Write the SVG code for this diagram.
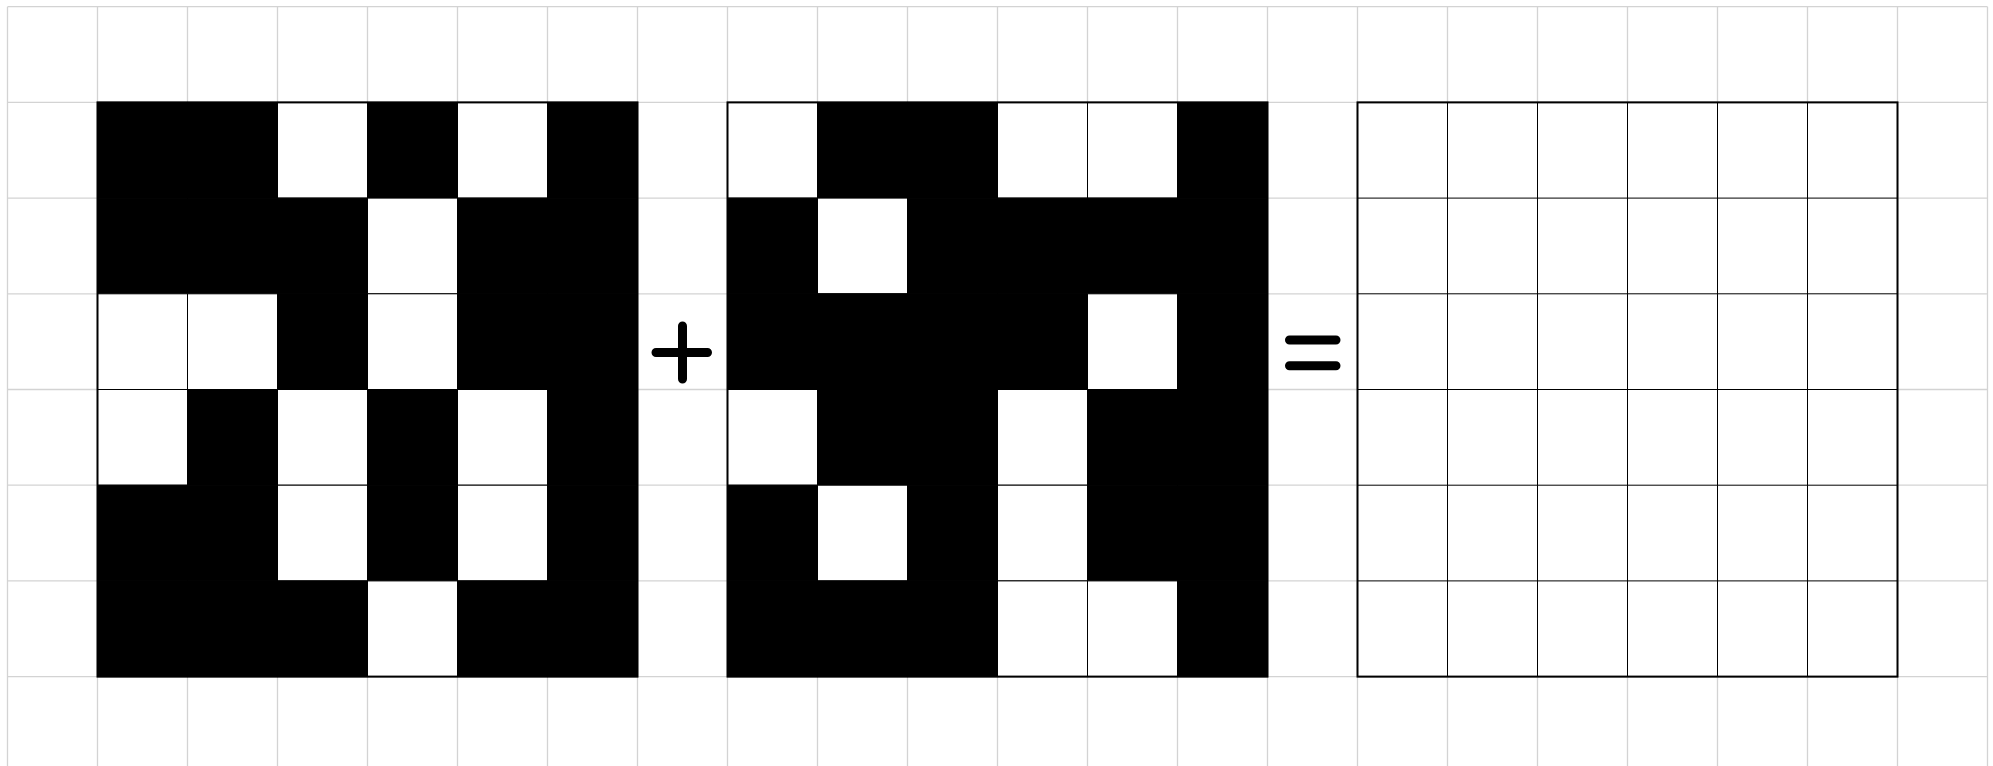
<svg xmlns="http://www.w3.org/2000/svg" width="1993" height="766" viewBox="0 0 1993 766">
<style>
.bg{stroke:#d3d3d3;stroke-width:1.3;fill:none}
.b{fill:#000;stroke:#000;stroke-width:1}
.w{fill:#fff;stroke:#000;stroke-width:1}
.frame{fill:none;stroke:#000;stroke-width:2}
.sym{stroke:#000;stroke-width:9;stroke-linecap:round;fill:none}
</style>
<rect x="0" y="0" width="1993" height="766" fill="#fff"/>
<g id="background-grid" class="bg">
<path d="M7.5 6.7V766M97.5 6.7V766M187.5 6.7V766M277.5 6.7V766M367.5 6.7V766M457.5 6.7V766M547.5 6.7V766M637.5 6.7V766M727.5 6.7V766M817.5 6.7V766M907.5 6.7V766M997.5 6.7V766M1087.5 6.7V766M1177.5 6.7V766M1267.5 6.7V766M1357.5 6.7V766M1447.5 6.7V766M1537.5 6.7V766M1627.5 6.7V766M1717.5 6.7V766M1807.5 6.7V766M1897.5 6.7V766M1987.5 6.7V766"/>
<path d="M7.5 6.7H1987.5M7.5 102.4H1987.5M7.5 198.1H1987.5M7.5 293.8H1987.5M7.5 389.5H1987.5M7.5 485.2H1987.5M7.5 580.9H1987.5M7.5 676.6H1987.5"/>
</g>
<g id="grid-a">
<rect class="b" x="97.5" y="102.4" width="90" height="95.7"/>
<rect class="b" x="187.5" y="102.4" width="90" height="95.7"/>
<rect class="w" x="277.5" y="102.4" width="90" height="95.7"/>
<rect class="b" x="367.5" y="102.4" width="90" height="95.7"/>
<rect class="w" x="457.5" y="102.4" width="90" height="95.7"/>
<rect class="b" x="547.5" y="102.4" width="90" height="95.7"/>

<rect class="b" x="97.5" y="198.1" width="90" height="95.7"/>
<rect class="b" x="187.5" y="198.1" width="90" height="95.7"/>
<rect class="b" x="277.5" y="198.1" width="90" height="95.7"/>
<rect class="w" x="367.5" y="198.1" width="90" height="95.7"/>
<rect class="b" x="457.5" y="198.1" width="90" height="95.7"/>
<rect class="b" x="547.5" y="198.1" width="90" height="95.7"/>

<rect class="w" x="97.5" y="293.8" width="90" height="95.7"/>
<rect class="w" x="187.5" y="293.8" width="90" height="95.7"/>
<rect class="b" x="277.5" y="293.8" width="90" height="95.7"/>
<rect class="w" x="367.5" y="293.8" width="90" height="95.7"/>
<rect class="b" x="457.5" y="293.8" width="90" height="95.7"/>
<rect class="b" x="547.5" y="293.8" width="90" height="95.7"/>

<rect class="w" x="97.5" y="389.5" width="90" height="95.7"/>
<rect class="b" x="187.5" y="389.5" width="90" height="95.7"/>
<rect class="w" x="277.5" y="389.5" width="90" height="95.7"/>
<rect class="b" x="367.5" y="389.5" width="90" height="95.7"/>
<rect class="w" x="457.5" y="389.5" width="90" height="95.7"/>
<rect class="b" x="547.5" y="389.5" width="90" height="95.7"/>

<rect class="b" x="97.5" y="485.2" width="90" height="95.7"/>
<rect class="b" x="187.5" y="485.2" width="90" height="95.7"/>
<rect class="w" x="277.5" y="485.2" width="90" height="95.7"/>
<rect class="b" x="367.5" y="485.2" width="90" height="95.7"/>
<rect class="w" x="457.5" y="485.2" width="90" height="95.7"/>
<rect class="b" x="547.5" y="485.2" width="90" height="95.7"/>

<rect class="b" x="97.5" y="580.9" width="90" height="95.7"/>
<rect class="b" x="187.5" y="580.9" width="90" height="95.7"/>
<rect class="b" x="277.5" y="580.9" width="90" height="95.7"/>
<rect class="w" x="367.5" y="580.9" width="90" height="95.7"/>
<rect class="b" x="457.5" y="580.9" width="90" height="95.7"/>
<rect class="b" x="547.5" y="580.9" width="90" height="95.7"/>
<rect class="frame" x="97.5" y="102.4" width="540" height="574.2"/>
</g>
<g id="plus-sign">
<path class="sym" d="M656 352.5H707.5M682.5 326V379"/>
</g>
<g id="grid-b">
<rect class="w" x="727.5" y="102.4" width="90" height="95.7"/>
<rect class="b" x="817.5" y="102.4" width="90" height="95.7"/>
<rect class="b" x="907.5" y="102.4" width="90" height="95.7"/>
<rect class="w" x="997.5" y="102.4" width="90" height="95.7"/>
<rect class="w" x="1087.5" y="102.4" width="90" height="95.7"/>
<rect class="b" x="1177.5" y="102.4" width="90" height="95.7"/>

<rect class="b" x="727.5" y="198.1" width="90" height="95.7"/>
<rect class="w" x="817.5" y="198.1" width="90" height="95.7"/>
<rect class="b" x="907.5" y="198.1" width="90" height="95.7"/>
<rect class="b" x="997.5" y="198.1" width="90" height="95.7"/>
<rect class="b" x="1087.5" y="198.1" width="90" height="95.7"/>
<rect class="b" x="1177.5" y="198.1" width="90" height="95.7"/>

<rect class="b" x="727.5" y="293.8" width="90" height="95.7"/>
<rect class="b" x="817.5" y="293.8" width="90" height="95.7"/>
<rect class="b" x="907.5" y="293.8" width="90" height="95.7"/>
<rect class="b" x="997.5" y="293.8" width="90" height="95.7"/>
<rect class="w" x="1087.5" y="293.8" width="90" height="95.7"/>
<rect class="b" x="1177.5" y="293.8" width="90" height="95.7"/>

<rect class="w" x="727.5" y="389.5" width="90" height="95.7"/>
<rect class="b" x="817.5" y="389.5" width="90" height="95.7"/>
<rect class="b" x="907.5" y="389.5" width="90" height="95.7"/>
<rect class="w" x="997.5" y="389.5" width="90" height="95.7"/>
<rect class="b" x="1087.5" y="389.5" width="90" height="95.7"/>
<rect class="b" x="1177.5" y="389.5" width="90" height="95.7"/>

<rect class="b" x="727.5" y="485.2" width="90" height="95.7"/>
<rect class="w" x="817.5" y="485.2" width="90" height="95.7"/>
<rect class="b" x="907.5" y="485.2" width="90" height="95.7"/>
<rect class="w" x="997.5" y="485.2" width="90" height="95.7"/>
<rect class="b" x="1087.5" y="485.2" width="90" height="95.7"/>
<rect class="b" x="1177.5" y="485.2" width="90" height="95.7"/>

<rect class="b" x="727.5" y="580.9" width="90" height="95.7"/>
<rect class="b" x="817.5" y="580.9" width="90" height="95.7"/>
<rect class="b" x="907.5" y="580.9" width="90" height="95.7"/>
<rect class="w" x="997.5" y="580.9" width="90" height="95.7"/>
<rect class="w" x="1087.5" y="580.9" width="90" height="95.7"/>
<rect class="b" x="1177.5" y="580.9" width="90" height="95.7"/>
<rect class="frame" x="727.5" y="102.4" width="540" height="574.2"/>
</g>
<g id="equals-sign">
<path class="sym" d="M1289.5 340H1336M1289.5 365.7H1336"/>
</g>
<g id="grid-c">
<rect class="w" x="1357.5" y="102.4" width="540" height="574.2"/>
<path d="M1447.5 102.4V676.6M1537.5 102.4V676.6M1627.5 102.4V676.6M1717.5 102.4V676.6M1807.5 102.4V676.6M1357.5 198.1H1897.5M1357.5 293.8H1897.5M1357.5 389.5H1897.5M1357.5 485.2H1897.5M1357.5 580.9H1897.5" stroke="#000" stroke-width="1" fill="none"/>
<rect class="frame" x="1357.5" y="102.4" width="540" height="574.2"/>
</g>
</svg>
